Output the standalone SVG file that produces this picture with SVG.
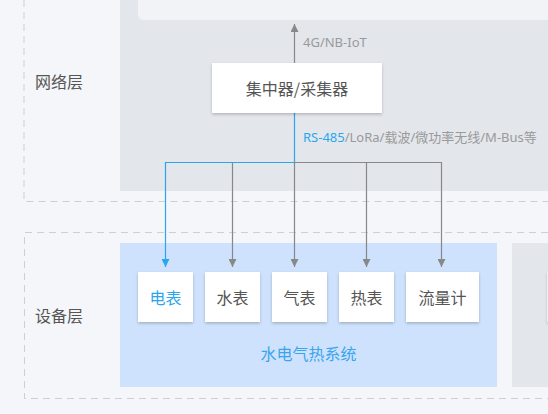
<svg xmlns="http://www.w3.org/2000/svg" width="548" height="414" viewBox="0 0 548 414">
<style>
.dash{fill:none;stroke:#cdcfd3;stroke-width:1;stroke-dasharray:7 5}
.node{fill:#ffffff;filter:url(#sh)}
.t{font-family:"Noto Sans CJK SC","Noto Sans",sans-serif;font-size:16px;fill:#555555;text-anchor:middle;dominant-baseline:central}
.lay{font-family:"Noto Sans CJK SC","Noto Sans",sans-serif;font-size:16px;fill:#555555}
.lbl{font-family:"Noto Sans","Noto Sans CJK SC",sans-serif;font-size:13px;fill:#9a9a9a}
.g{fill:none;stroke:#888888;stroke-width:1.2}
.b{fill:none;stroke:#2ba6ee;stroke-width:1.2}
</style>
<defs>
<filter id="sh" x="-20%" y="-20%" width="140%" height="150%">
<feDropShadow dx="0" dy="1.5" stdDeviation="1.5" flood-color="#000" flood-opacity="0.22"/>
</filter>
<marker id="ag" viewBox="0 0 10 10" refX="10" refY="5" markerWidth="8" markerHeight="8" markerUnits="userSpaceOnUse" orient="auto">
<path d="M0,0L10,5L0,10z" fill="#888888"/>
</marker>
<marker id="ab" viewBox="0 0 10 10" refX="10" refY="5" markerWidth="8" markerHeight="8" markerUnits="userSpaceOnUse" orient="auto">
<path d="M0,0L10,5L0,10z" fill="#2ba6ee"/>
</marker>
</defs>
<rect x="0" y="0" width="548" height="414" fill="#f4f6fa"/>
<g id="network-layer">
<path class="dash" d="M24,0V201.5H548"/>
<rect x="120" y="-10" width="440" height="201" fill="#e3e6eb"/>
<rect x="138" y="-10" width="420" height="30" rx="5" fill="#f2f3f6"/>
<text class="lay" x="35" y="87.5">网络层</text>
</g>
<g id="device-layer">
<path class="dash" d="M548,232.5H24.5V398.5H548"/>
<rect x="120" y="243" width="377" height="144" fill="#cee2fd"/>
<rect x="512" y="243" width="50" height="144" fill="#e3e6eb"/>
<rect class="node" x="547.5" y="272" width="40" height="50"/>
<text class="lay" x="35" y="322">设备层</text>
<text class="t" x="308.5" y="353" style="fill:#3aa5ee">水电气热系统</text>
</g>
<g id="connectors">
<line class="g" x1="294.5" y1="63" x2="294.5" y2="24" marker-end="url(#ag)"/>
<text class="lbl" x="303" y="47">4G/NB-IoT</text>
<path class="b" d="M294.5,113V162.5H165.5V267" marker-end="url(#ab)"/>
<path class="g" d="M294.5,162.5H441.5V267" marker-end="url(#ag)"/>
<path class="g" d="M232.5,162.5V267" marker-end="url(#ag)"/>
<path class="g" d="M294.5,162.5V267" marker-end="url(#ag)"/>
<path class="g" d="M366.5,162.5V267" marker-end="url(#ag)"/>
<text class="lbl" x="303" y="142"><tspan fill="#2ba6ee">RS-485</tspan>/LoRa/载波/微功率无线/M-Bus等</text>
</g>
<g id="concentrator">
<rect class="node" x="212" y="63" width="170" height="50"/>
<text class="t" x="297" y="88">集中器/采集器</text>
</g>
<g id="meter-electric">
<rect class="node" x="138" y="272" width="55" height="50"/>
<text class="t" x="165.5" y="297" style="fill:#2ba6ee">电表</text>
</g>
<g id="meter-water">
<rect class="node" x="205" y="272" width="55" height="50"/>
<text class="t" x="232.5" y="297">水表</text>
</g>
<g id="meter-gas">
<rect class="node" x="272" y="272" width="55" height="50"/>
<text class="t" x="299.5" y="297">气表</text>
</g>
<g id="meter-heat">
<rect class="node" x="339" y="272" width="55" height="50"/>
<text class="t" x="366.5" y="297">热表</text>
</g>
<g id="meter-flow">
<rect class="node" x="406" y="272" width="73" height="50"/>
<text class="t" x="442.5" y="297">流量计</text>
</g>
</svg>
